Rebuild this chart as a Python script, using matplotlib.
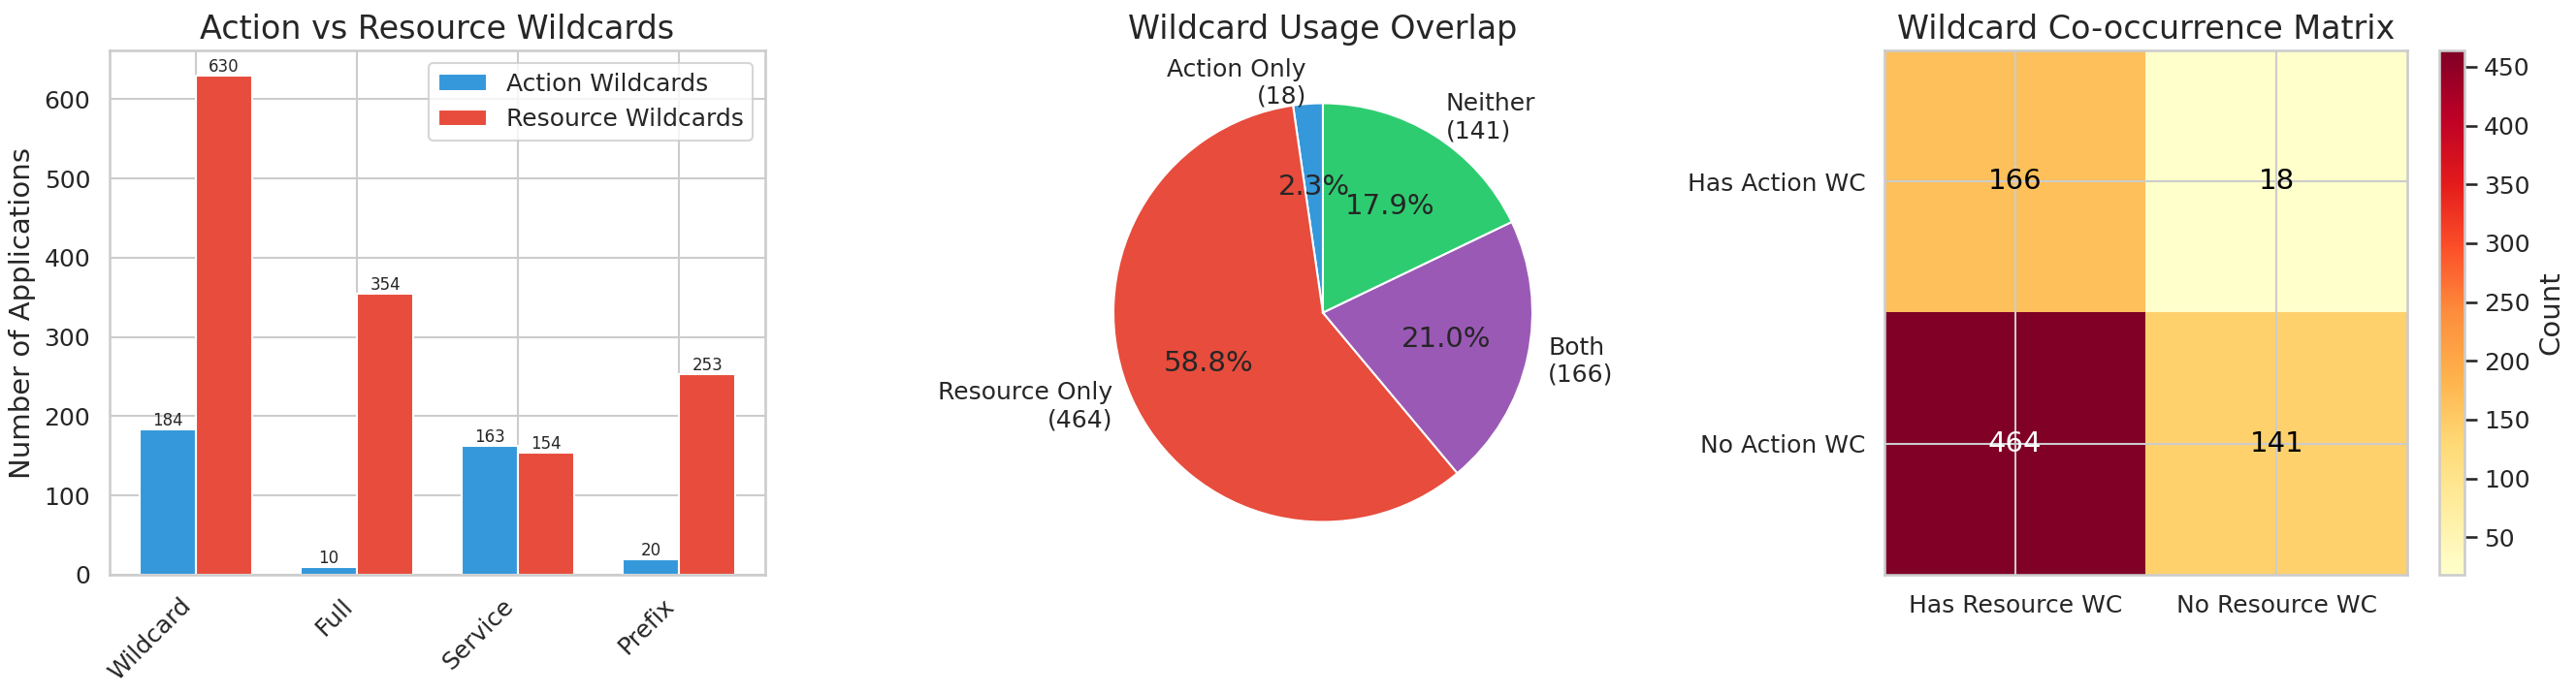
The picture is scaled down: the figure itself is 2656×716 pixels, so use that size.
import numpy as np
import matplotlib
matplotlib.use("Agg")
import matplotlib.pyplot as plt
import seaborn as sns

sns.set_theme(style="whitegrid")
plt.rcParams['font.family'] = ['DejaVu Sans']

categories = ["Wildcard", "Full", "Service", "Prefix"]
action_wc = [184, 10, 163, 20]
resource_wc = [630, 354, 154, 253]

pie_labels = ["Action Only", "Resource Only", "Both", "Neither"]
pie_values = [18, 464, 166, 141]
pie_colors = ["#3498db", "#e74c3c", "#9b59b6", "#2ecc71"]

row_labels = ["Has Action WC", "No Action WC"]
col_labels = ["Has Resource WC", "No Resource WC"]
matrix = np.array([[166, 18], [464, 141]])

DPI = 150
W, H = 2656, 716
fig = plt.figure(figsize=(W/DPI, H/DPI), dpi=DPI)

def box(l, t, r, b):
    return [l/W, 1 - b/H, (r - l)/W, (b - t)/H]

ax0 = fig.add_axes(box(113, 52, 789, 593))
ax1 = fig.add_axes(box(1364 - 270, 52, 1364 + 270, 593))
ax2 = fig.add_axes(box(1943, 52, 2482, 593))
cax = fig.add_axes(box(2515, 52, 2541, 593))

# Bar chart
ax = ax0
x = np.arange(len(categories))
w = 0.35
b1 = ax.bar(x - w/2, action_wc, w, label="Action Wildcards", color="#3498db")
b2 = ax.bar(x + w/2, resource_wc, w, label="Resource Wildcards", color="#e74c3c")
for bars in (b1, b2):
    for b in bars:
        ax.text(b.get_x() + b.get_width()/2, b.get_height(), f"{int(b.get_height())}",
                ha="center", va="bottom", fontsize=8)
ax.set_xticks(x)
ax.set_xticklabels(categories, rotation=45, ha="right", fontsize=12)
ax.tick_params(axis="y", labelsize=12)
ax.set_ylabel("Number of Applications", fontsize=14)
ax.set_title("Action vs Resource Wildcards", fontsize=16)
ax.legend(fontsize=12)

# Pie
ax = ax1
ax.pie(pie_values, labels=[f"{l}\n({v})" for l, v in zip(pie_labels, pie_values)],
       colors=pie_colors, autopct="%1.1f%%", startangle=90,
       textprops={"fontsize": 12})
for t in ax.texts:
    if t.get_text().endswith("%"):
        t.set_fontsize(14)
ax.set_title("Wildcard Usage Overlap", fontsize=16)

# Heatmap
ax = ax2
im = ax.imshow(matrix, cmap="YlOrRd", aspect="auto")
ax.set_xticks([0, 1])
ax.set_xticklabels(col_labels, fontsize=12)
ax.set_yticks([0, 1])
ax.set_yticklabels(row_labels, fontsize=12)
for i in range(2):
    for j in range(2):
        ax.text(j, i, str(matrix[i, j]), ha="center", va="center",
                color="white" if matrix[i, j] > matrix.max()/2 else "black", fontsize=14)
ax.set_title("Wildcard Co-occurrence Matrix", fontsize=16)
cb = fig.colorbar(im, cax=cax)
cb.set_label("Count", fontsize=14)
cb.ax.tick_params(labelsize=12)

fig.savefig("out.png", dpi=DPI)
